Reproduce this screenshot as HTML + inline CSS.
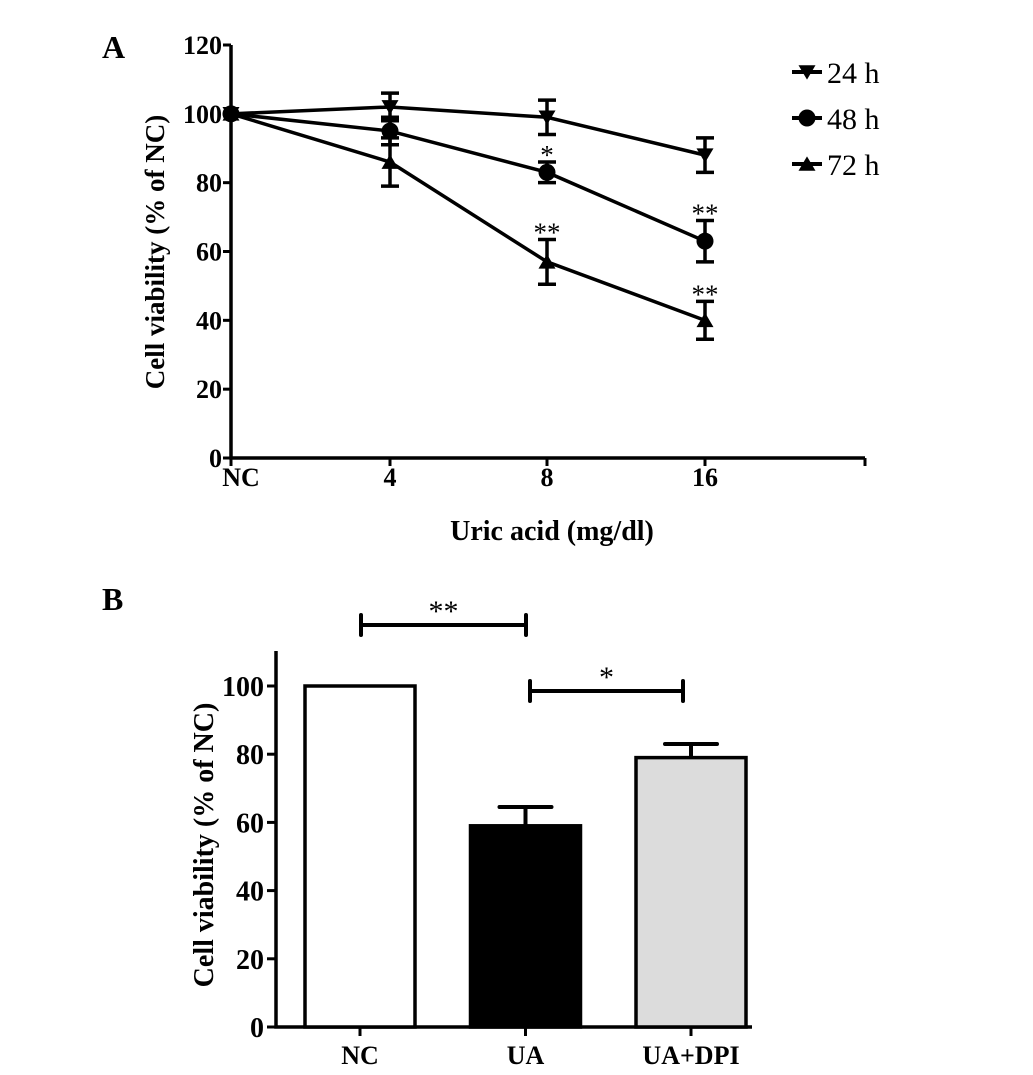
<!DOCTYPE html>
<html><head><meta charset="utf-8"><style>
html,body{margin:0;padding:0;background:#fff;}
svg{display:block;font-family:"Liberation Serif",serif;}
</style></head><body>
<svg id="c" width="1033" height="1075" viewBox="0 0 1033 1075" xmlns="http://www.w3.org/2000/svg">
<text x="102" y="58" font-size="32" font-weight="bold">A</text>
<text x="102" y="610" font-size="32" font-weight="bold">B</text>
<g id="pa"></g>
<g id="pb"></g>
</svg>
<script>
// Panel A data
const aCats = ["NC","4","8","16"];
const aYTicks = [0,20,40,60,80,100,120];
const s24 = [100,102,99,88];
const e24 = [0,4,5,5];
const s48 = [100,95,83,63];
const e48 = [0,4,3,6];
const s72 = [100,86,57,40];
const e72 = [0,7,6.5,5.5];
const aStars48 = ["","","*","**"];
const aStars72 = ["","","**","**"];
// Panel B data
const bCats = ["NC","UA","UA+DPI"];
const bVals = [100,59,79];
const bErr = [0,5.5,4];
const bYTicks = [0,20,40,60,80,100];

const NS="http://www.w3.org/2000/svg";
function mk(p,tag,at){const e=document.createElementNS(NS,tag);for(const k in at)e.setAttribute(k,at[k]);p.appendChild(e);return e;}

// ---- Panel A
const pa=document.getElementById('pa');
const ax0=231, ay0=458, ayTop=45;
const aX=[231,390,547,705];
const ay=v=>ay0-(v/120)*(ay0-ayTop);
let l=mk(pa,'path',{d:`M${ax0},${ayTop} V${ay0} H865`,stroke:'#000','stroke-width':3.5,fill:'none'});


aYTicks.forEach(t=>{
  mk(pa,'line',{x1:ax0-8,x2:ax0,y1:ay(t),y2:ay(t),stroke:'#000','stroke-width':3});
  const tx=mk(pa,'text',{x:ax0-9,y:ay(t)+9,'font-size':26,'font-weight':'bold','text-anchor':'end'});
  tx.textContent=t;
  
  
});
aCats.forEach((c,i)=>{
  mk(pa,'line',{x1:aX[i],x2:aX[i],y1:ay0,y2:ay0+8,stroke:'#000','stroke-width':3});
  const tx=mk(pa,'text',{x:aX[i]+(i==0?10:0),y:ay0+28,'font-size':26,'font-weight':'bold','text-anchor':'middle'});
  tx.textContent=c;
  
  
});
mk(pa,'line',{x1:865,x2:865,y1:ay0,y2:ay0+8,stroke:'#000','stroke-width':3});
let t=mk(pa,'text',{x:552,y:540,'font-size':28,'font-weight':'bold','text-anchor':'middle'});
t.textContent="Uric acid (mg/dl)";


t=mk(pa,'text',{x:0,y:0,'font-size':27,'font-weight':'bold','text-anchor':'middle',transform:`translate(164,252) rotate(-90)`});
t.textContent="Cell viability (% of NC)";



function marker(p,type,x,y){
  const r=8.5;
  if(type=='down') return mk(p,'path',{d:`M${x-r},${y-r*0.8} L${x+r},${y-r*0.8} L${x},${y+r*0.9} Z`,fill:'#000'});
  if(type=='up') return mk(p,'path',{d:`M${x-r},${y+r*0.8} L${x+r},${y+r*0.8} L${x},${y-r*0.9} Z`,fill:'#000'});
  return mk(p,'circle',{cx:x,cy:y,r:r,fill:'#000'});
}
const series=[[s24,e24,'down','24 h','series-24h'],[s48,e48,'circle','48 h','series-48h'],[s72,e72,'up','72 h','series-72h']];
series.forEach(([v,e,m,lab,nm],si)=>{
  const g=mk(pa,'g',{});
  
  
  mk(g,'polyline',{points:v.map((d,i)=>`${aX[i]},${ay(d)}`).join(' '),fill:'none',stroke:'#000','stroke-width':3.5});
  v.forEach((d,i)=>{
    if(e[i]>0){
      const y1=ay(d+e[i]),y2=ay(d-e[i]);
      mk(g,'path',{d:`M${aX[i]},${y1} V${y2} M${aX[i]-9},${y1} H${aX[i]+9} M${aX[i]-9},${y2} H${aX[i]+9}`,stroke:'#000','stroke-width':3.5,fill:'none'});
    }
    const mm=marker(g,m,aX[i],ay(d));
    
    
  });
  const ly=72+si*46;
  mk(g,'line',{x1:792,x2:822,y1:ly,y2:ly,stroke:'#000','stroke-width':4});
  marker(g,m,807,ly);
  const lt=mk(g,'text',{x:827,y:ly+11,'font-size':30});
  lt.textContent=lab;
  
  
});
[[s48,e48,aStars48],[s72,e72,aStars72]].forEach(([v,e,st])=>{
  st.forEach((s,i)=>{ if(!s)return;
    const tx=mk(pa,'text',{x:aX[i],y:ay(v[i]+e[i])+2,'font-size':27,'text-anchor':'middle'});
    tx.textContent=s;
    
    
  });
});

// ---- Panel B
const pb=document.getElementById('pb');
const bx0=276, by0=1027, byTop=651;
const by=v=>by0-v*(by0-686)/100;
const bX=i=>360+i*165.5;
const bw=110;
const fills=['#fff','#000','#dcdcdc'];
l=mk(pb,'path',{d:`M${bx0},${byTop} V${by0} H752`,stroke:'#000','stroke-width':3.5,fill:'none'});


bYTicks.forEach(v=>{
  mk(pb,'line',{x1:bx0-9,x2:bx0,y1:by(v),y2:by(v),stroke:'#000','stroke-width':3});
  const tx=mk(pb,'text',{x:bx0-12,y:by(v)+10,'font-size':28,'font-weight':'bold','text-anchor':'end'});
  tx.textContent=v;
  
  
});
bCats.forEach((c,i)=>{
  const x=bX(i);
  mk(pb,'line',{x1:x,x2:x,y1:by0,y2:by0+9,stroke:'#000','stroke-width':3});
  const tx=mk(pb,'text',{x:x,y:by0+37,'font-size':26,'font-weight':'bold','text-anchor':'middle'});
  tx.textContent=c;
  
  
  if(bErr[i]>0){
    const y1=by(bVals[i]+bErr[i]);
    mk(pb,'path',{d:`M${x},${by(bVals[i])} V${y1} M${x-26},${y1} H${x+26}`,stroke:'#000','stroke-width':4,fill:'none','stroke-linecap':'round'});
  }
  const r=mk(pb,'rect',{x:x-bw/2,y:by(bVals[i]),width:bw,height:by0-by(bVals[i]),fill:fills[i],stroke:'#000','stroke-width':3.5});
  
  
});
t=mk(pb,'text',{x:0,y:0,'font-size':28,'font-weight':'bold','text-anchor':'middle',transform:`translate(213,845) rotate(-90)`});
t.textContent="Cell viability (% of NC)";


[[361,526,625,'**'],[530,683,691,'*']].forEach(([x1,x2,y,s])=>{
  const g=mk(pb,'g',{});
  
  
  mk(g,'path',{d:`M${x1},${y} H${x2} M${x1},${y-10} V${y+10} M${x2},${y-10} V${y+10}`,stroke:'#000','stroke-width':4,fill:'none','stroke-linecap':'round'});
  const tx=mk(g,'text',{x:(x1+x2)/2,y:y-4,'font-size':30,'text-anchor':'middle'});
  tx.textContent=s;
});
</script>
</body></html>
